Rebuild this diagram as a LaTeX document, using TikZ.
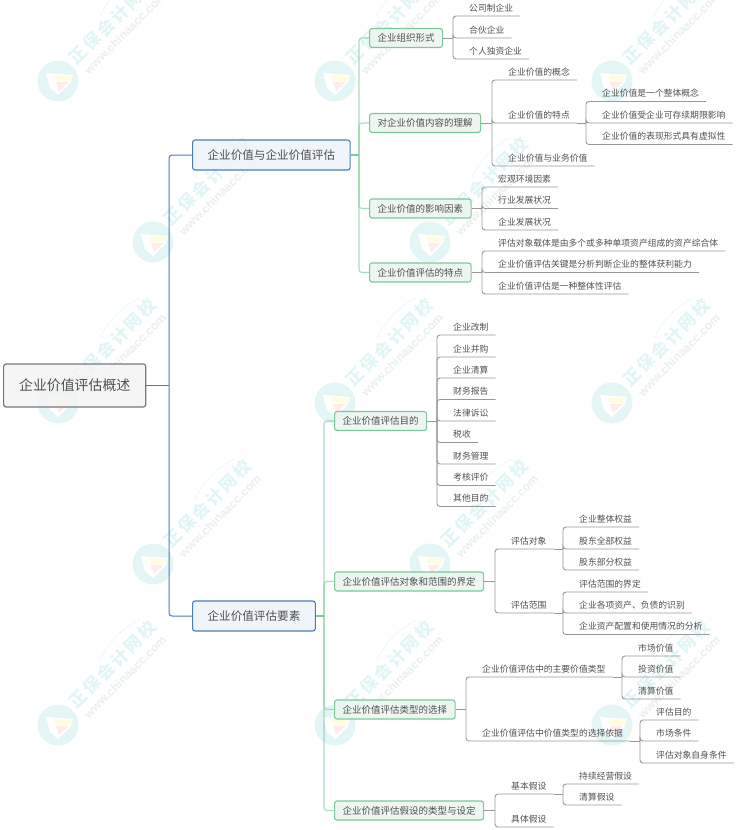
\documentclass[tikz,border=0pt]{standalone}
\usepackage{fontspec}
\setmainfont{Noto Sans CJK SC}
\newfontfamily\urlfont{Liberation Sans}
\newfontfamily\markfont[LetterSpace=15]{Noto Sans CJK SC}
\usepackage{tikz}
\definecolor{gray2}{RGB}{153,153,153}
\definecolor{ink}{RGB}{80,80,80}
\definecolor{rootline}{RGB}{120,120,120}
\definecolor{rootfill}{RGB}{243,243,243}
\definecolor{blueline}{RGB}{74,126,187}
\definecolor{bluefill}{RGB}{237,243,250}
\definecolor{greenline}{RGB}{125,200,155}
\definecolor{greenfill}{RGB}{235,245,239}
\definecolor{markdisc}{RGB}{227,245,245}
\definecolor{marktext}{RGB}{226,245,245}
\definecolor{markurl}{RGB}{234,238,238}
\tikzset{
  rootbox/.style={draw=rootline,fill=rootfill,fill opacity=.85,text opacity=1,line width=1.2pt,rounded corners=2.5pt,anchor=west,
    inner xsep=15.5pt,inner ysep=0pt,minimum height=43pt,text=ink,font=\fontsize{13.9}{16}\selectfont},
  mainbox/.style={draw=blueline,fill=bluefill,fill opacity=.85,text opacity=1,line width=1.1pt,rounded corners=2.5pt,anchor=west,
    inner xsep=15pt,inner ysep=0pt,minimum height=30pt,text=ink,font=\fontsize{11.6}{14}\selectfont},
  subbox/.style={draw=greenline,fill=greenfill,fill opacity=.85,text opacity=1,line width=1.1pt,rounded corners=2.5pt,anchor=west,
    inner xsep=8pt,inner ysep=0pt,minimum height=19pt,text=ink,font=\fontsize{9.5}{12}\selectfont},
  leaf/.style={anchor=south west,inner xsep=7pt,inner ysep=3.5pt,text height=7.7pt,text depth=1.1pt,
    text=ink,font=\fontsize{8.8}{11}\selectfont},
  bluestem/.style={draw=blueline,line width=1pt,rounded corners=3pt},
  greenstem/.style={draw=greenline,line width=1.1pt,rounded corners=3pt,opacity=.65},
  twig/.style={draw=gray2,line width=.9pt,rounded corners=3pt},
}
\begin{document}
\begin{tikzpicture}[x=1pt,y=-1pt]
	\useasboundingbox (0,0) rectangle (736,830);
	\newcommand \twigoff{9pt}
	\newcommand \bluestemoff{23pt}
	\newcommand \greenstemoff{10pt}
%% Watermarks:
\begin{scope}
\clip (0,0) rectangle (736,830);
\foreach \wx/\wy in {58/81,335/81,612/81,153/242,430/242,58/403,335/403,612/403,153/564,430/564,58/725,335/725,612/725}
{
\begin{scope}[shift={(\wx,\wy)}]
	\fill[markdisc] (0,0) circle (20.5);
	\fill[white] (-12,-8) -- (15,-6) -- (13,1) -- (0,14) -- (-8,7) -- cycle;
	\fill[yellow!12] (-4,-6) -- (14,-5) -- (12,0) -- (-2,0) -- cycle;
	\fill[red!8] (-2,1) -- (11,1) -- (1,10) -- cycle;
	\draw[marktext,line width=.5pt] (42,-65) .. controls (52,-85) and (66,-98) .. (82,-105);
	\node[rotate=45,text=marktext,inner sep=0pt,font=\markfont\fontsize{17}{20}\selectfont\bfseries] (mark-\wx-\wy) at (54.5,-60.5) {正保会计网校};
	\node[rotate=45,text=markurl,inner sep=0pt,font=\urlfont\fontsize{12}{14}\selectfont\bfseries] (url-\wx-\wy) at (67,-48) {www.chinaacc.com};
\end{scope}
}
\end{scope}
%% Main boxes:
\node[rootbox] (root) at (3,385.5) {企业价值评估概述};
\node[mainbox] (worth) at (192,155) {企业价值与企业价值评估};
\node[mainbox] (elems) at (192,616) {企业价值评估要素};
\foreach \kid/\kidy/\txt in {orgform/38/企业组织形式,content/123/对企业价值内容的理解,factors/208.5/企业价值的影响因素,traits/272.5/企业价值评估的特点}
{
\node[subbox] (\kid) at (369,\kidy) {\txt};
}
\foreach \kid/\kidy/\txt in {purpose/421/企业价值评估目的,object/581.5/企业价值评估对象和范围的界定,kinds/709.5/企业价值评估类型的选择,assume/810.5/企业价值评估假设的类型与设定}
{
\node[subbox] (\kid) at (334,\kidy) {\txt};
}
%% Leaves, top half:
\foreach \name/\leafy/\txt in {company/16/公司制企业,partner/38/合伙企业,sole/59/个人独资企业}
{
\node[leaf] (\name) at (462,\leafy) {\txt};
}
\foreach \name/\leafy/\txt in {concept/80/企业价值的概念,feature/123/企业价值的特点,business/166/企业价值与业务价值}
{
\node[leaf] (\name) at (501,\leafy) {\txt};
}
\foreach \name/\leafy/\txt in {whole/101.5/企业价值是一个整体概念,lifespan/123/企业价值受企业可存续期限影响,virtual/144.5/企业价值的表现形式具有虚拟性}
{
\node[leaf] (\name) at (595,\leafy) {\txt};
}
\foreach \name/\leafy/\txt in {macro/187/宏观环境因素,industry/208.5/行业发展状况,firm/230/企业发展状况}
{
\node[leaf] (\name) at (491,\leafy) {\txt};
}
\foreach \name/\leafy/\txt in {carrier/251/评估对象载体是由多个或多种单项资产组成的资产综合体,profit/272.5/企业价值评估关键是分析判断企业的整体获利能力,entire/294/企业价值评估是一种整体性评估}
{
\node[leaf] (\name) at (491,\leafy) {\txt};
}
%% Leaves, bottom half:
\foreach \name/\leafy/\txt in {reform/335/企业改制,merger/357/企业并购,liquid/378/企业清算,report/399.5/财务报告,lawsuit/421/法律诉讼,tax/442.5/税收,manage/464/财务管理,review/485.5/考核评价,other/506.5/其他目的}
{
\node[leaf] (\name) at (446,\leafy) {\txt};
}
\node[leaf] (target) at (504,549) {评估对象};
\node[leaf] (scope) at (504,613) {评估范围};
\foreach \name/\leafy/\txt in {equity/527/企业整体权益,allhold/549/股东全部权益,parthold/570/股东部分权益,limits/592/评估范围的界定,assets/613/企业各项资产、负债的识别,usage/634.5/企业资产配置和使用情况的分析}
{
\node[leaf] (\name) at (572,\leafy) {\txt};
}
\node[leaf] (maintype) at (475,677) {企业价值评估中的主要价值类型};
\node[leaf] (basis) at (475,741) {企业价值评估中价值类型的选择依据};
\foreach \name/\leafy/\txt in {market/656/市场价值,invest/677/投资价值,clear/699/清算价值}
{
\node[leaf] (\name) at (631,\leafy) {\txt};
}
\foreach \name/\leafy/\txt in {goal/720/评估目的,terms/741/市场条件,self/763/评估对象自身条件}
{
\node[leaf] (\name) at (649,\leafy) {\txt};
}
\node[leaf] (basic) at (504,794) {基本假设};
\node[leaf] (special) at (504,827) {具体假设};
\node[leaf] (going) at (572,784) {持续经营假设};
\node[leaf] (ending) at (572,805) {清算假设};
%% Connectors:
\draw[draw=blueline,line width=1pt] (root.east) -- ([xshift=-\bluestemoff]worth.west |- root.east);
\foreach \kid in {worth,elems}
{
\draw[bluestem] ([xshift=-\bluestemoff]\kid.west |- root.east) -- ([xshift=-\bluestemoff]\kid.west) -- (\kid.west);
}
\foreach \dad/\kids in {worth.east/{orgform,content,factors,traits},elems.east/{purpose,object,kinds,assume}}
{
\foreach \kid in \kids
{
\draw[draw=greenline,line width=1.1pt] (\dad) -- ([xshift=-\greenstemoff]\kid.west |- \dad);
\draw[greenstem] ([xshift=-\greenstemoff]\kid.west |- \dad) -- ([xshift=-\greenstemoff]\kid.west) -- (\kid.west);
}
}
\foreach \dad/\kids in {orgform.east/{company,partner,sole},content.east/{concept,feature,business},feature.south east/{whole,lifespan,virtual},factors.east/{macro,industry,firm},traits.east/{carrier,profit,entire},purpose.east/{reform,merger,liquid,report,lawsuit,tax,manage,review,other},object.east/{target,scope},target.south east/{equity,allhold,parthold},scope.south east/{limits,assets,usage},kinds.east/{maintype,basis},maintype.south east/{market,invest,clear},basis.south east/{goal,terms,self},assume.east/{basic,special},basic.south east/{going,ending}}
{
\foreach \kid in \kids
{
\draw[draw=gray2,line width=.9pt] (\dad) -- ([xshift=-\twigoff]\kid.south west |- \dad);
\draw[twig] ([xshift=-\twigoff]\kid.south west |- \dad) -- ([xshift=-\twigoff]\kid.south west) -- (\kid.south west) -- (\kid.south east);
}
}
\end{tikzpicture}
\end{document}
